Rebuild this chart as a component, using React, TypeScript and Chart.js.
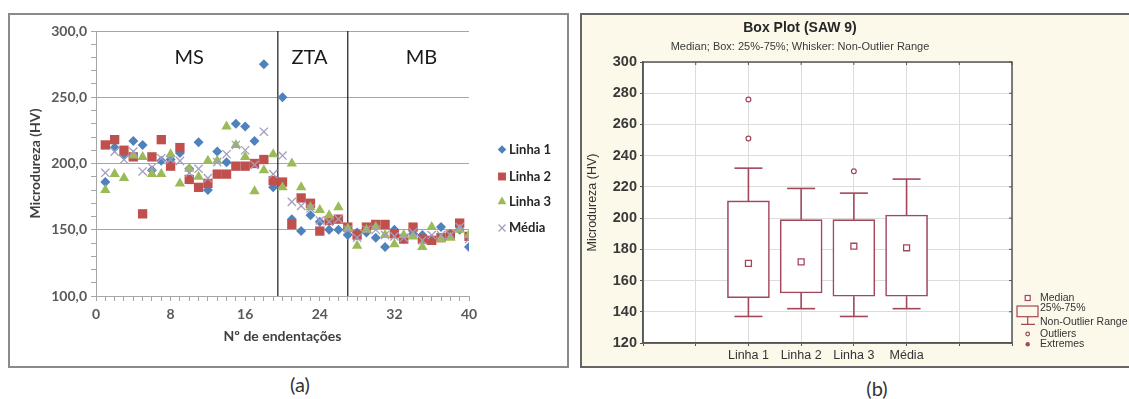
import React, { useEffect, useRef } from 'react';
import { Chart, registerables } from 'chart.js';

Chart.register(...registerables);

// ---------------- Panel (a) data ----------------
const seriesNames = ['Linha 1', 'Linha 2', 'Linha 3', 'Média'];
const indentations = [1, 2, 3, 4, 5, 6, 7, 8, 9, 10, 11, 12, 13, 14, 15, 16, 17, 18, 19, 20, 21, 22, 23, 24, 25, 26, 27, 28, 29, 30, 31, 32, 33, 34, 35, 36, 37, 38, 39, 40];
const linha1 = [186, 212, 206, 217, 214, 195, 202, 203, 208, 196, 216, 180, 209, 201, 230, 228, 217, 275, 182, 250, 158, 149, 161, 156, 150, 150, 146, 148, 148, 144, 137, 150, 143, 147, 146, 143, 152, 147, 150, 137];
const linha2 = [214, 218, 210, 205, 162, 205, 218, 198, 212, 188, 182, 185, 192, 192, 198, 198, 200, 203, 187, 186, 154, 174, 170, 149, 157, 158, 152, 146, 152, 154, 154, 147, 143, 152, 143, 142, 144, 146, 155, 145];
const linha3 = [180, 192, 189, 206, 205, 192, 192, 207, 185, 196, 190, 202, 202, 228, 214, 205, 179, 195, 207, 182, 200, 182, 167, 165, 161, 167, 151, 138, 150, 152, 146, 139, 146, 145, 137, 152, 143, 144, 150, 146];
const media = [193, 209, 203, 209, 194, 197, 204, 203, 202, 193, 196, 189, 201, 207, 214, 210, 199, 224, 192, 206, 171, 168, 166, 157, 156, 158, 150, 144, 150, 150, 146, 145, 144, 148, 142, 146, 146, 146, 152, 143];
const xTickLabels = [0, 8, 16, 24, 32, 40];
const yTickLabels = [100, 150, 200, 250, 300];
const zoneBounds = [19.5, 27];
const zoneNames = ['MS', 'ZTA', 'MB'];
const zoneNameAt = [10, 22.9, 34.9];
const zoneNameLevel = 280;

// ---------------- Panel (b) data ----------------
const boxAxisLabels = ['', '', 'Linha 1', 'Linha 2', 'Linha 3', 'Média', '', ''];
const boxCategories = ['Linha 1', 'Linha 2', 'Linha 3', 'Média'];
const boxQ1 = [149, 152, 150, 150];
const boxQ3 = [211, 199, 199, 202];
const boxMedian = [171, 172, 182, 181];
const whiskerLow = [137, 142, 137, 142];
const whiskerHigh = [232, 219, 216, 225];
const outlierValues = [[276, 251], [], [230], []];
const boxYRange = [120, 300];
const boxTitle = 'Box Plot (SAW 9)';
const boxSubtitle = 'Median; Box: 25%-75%; Whisker: Non-Outlier Range';
const boxLegendLabels = ['Median', '25%-75%', 'Non-Outlier Range', 'Outliers', 'Extremes'];

// ---------------- styles ----------------
const GRID_GRAY = '#A6A6A6';
const LATO = 'Lato';
const ARIAL = '"Liberation Sans", Arial, sans-serif';
const BOX_COLOR = '#A3475B';
const seriesStyles = [
  { shape: 'rectRot', color: '#4F81BD', radius: 5 },
  { shape: 'rect', color: '#C0504D', radius: 6.6 },
  { shape: 'triangle', color: '#9BBB59', radius: 6 },
  { shape: 'crossRot', color: '#A29FBD', radius: 5.8 },
];
const legendRowsA = [134.5, 161.5, 186.7, 213];

function drawMarker(ctx: any, shape: string, x: number, y: number, r: number, color: string) {
  ctx.save();
  ctx.fillStyle = color;
  ctx.strokeStyle = color;
  ctx.lineWidth = 1.3;
  ctx.beginPath();
  if (shape === 'rectRot') {
    ctx.moveTo(x - r, y);
    ctx.lineTo(x, y - r);
    ctx.lineTo(x + r, y);
    ctx.lineTo(x, y + r);
    ctx.closePath();
    ctx.fill();
  } else if (shape === 'rect') {
    const s = r * Math.SQRT1_2;
    ctx.rect(x - s, y - s, 2 * s, 2 * s);
    ctx.fill();
  } else if (shape === 'triangle') {
    ctx.moveTo(x, y - r);
    ctx.lineTo(x + r * 0.866, y + r * 0.5);
    ctx.lineTo(x - r * 0.866, y + r * 0.5);
    ctx.closePath();
    ctx.fill();
  } else {
    const d = r * Math.SQRT1_2;
    ctx.moveTo(x - d, y - d);
    ctx.lineTo(x + d, y + d);
    ctx.moveTo(x + d, y - d);
    ctx.lineTo(x - d, y + d);
    ctx.stroke();
  }
  ctx.restore();
}

function ScatterPanel() {
  const ref = useRef<HTMLCanvasElement>(null);
  useEffect(() => {
    if (!ref.current) return;
    const seriesValues = [linha1, linha2, linha3, media];
    const datasets: any[] = seriesValues.map((vals, k) => ({
      type: 'scatter',
      label: seriesNames[k],
      data: vals.map((v, i) => ({ x: indentations[i], y: v })),
      pointStyle: seriesStyles[k].shape,
      pointRadius: seriesStyles[k].radius,
      backgroundColor: seriesStyles[k].color,
      borderColor: seriesStyles[k].color,
      pointBorderWidth: seriesStyles[k].shape === 'crossRot' ? 1.3 : 0,
      order: 10 - k,
    }));
    zoneBounds.forEach((b) => {
      datasets.push({
        type: 'line',
        label: '',
        data: [{ x: b, y: yTickLabels[0] }, { x: b, y: yTickLabels[yTickLabels.length - 1] }],
        borderColor: '#1a1a1a',
        borderWidth: 1.2,
        pointRadius: 0,
        order: 20,
      });
    });

    const decor = {
      id: 'decorA',
      afterDraw(chart: any) {
        const { ctx, scales } = chart;
        ctx.save();
        ctx.fillStyle = '#1a1a1a';
        ctx.font = `20px ${LATO}`;
        ctx.textAlign = 'center';
        ctx.textBaseline = 'middle';
        zoneNames.forEach((n, k) => {
          ctx.fillText(n, scales.x.getPixelForValue(zoneNameAt[k]), scales.y.getPixelForValue(zoneNameLevel));
        });
        ctx.font = `bold 13px ${LATO}`;
        ctx.textAlign = 'left';
        seriesNames.forEach((n, k) => {
          drawMarker(ctx, seriesStyles[k].shape, 492, legendRowsA[k], seriesStyles[k].radius * 0.85, seriesStyles[k].color);
          ctx.fillStyle = '#262626';
          ctx.fillText(n, 499, legendRowsA[k]);
        });
        ctx.restore();
      },
    };

    const chart = new Chart(ref.current, {
      type: 'scatter',
      data: { datasets },
      plugins: [decor],
      options: {
        animation: false,
        responsive: false,
        events: [],
        layout: { padding: { top: 16, right: 97, left: 0, bottom: 0 } },
        plugins: { legend: { display: false }, tooltip: { enabled: false } },
        scales: {
          x: {
            type: 'linear',
            min: xTickLabels[0],
            max: xTickLabels[xTickLabels.length - 1],
            afterFit: (s: any) => { s.height = 69; },
            ticks: {
              stepSize: 1,
              autoSkip: false,
              maxRotation: 0,
              padding: 5,
              color: '#595959',
              font: { family: LATO, size: 14, weight: 'bold' },
              callback: (v: any) => (xTickLabels.includes(Math.round(v)) && Math.abs(v - Math.round(v)) < 1e-6 ? String(Math.round(v)) : ''),
            },
            grid: { drawOnChartArea: false, color: GRID_GRAY, tickLength: 5 },
            border: { color: GRID_GRAY, width: 1 },
            title: {
              display: true,
              text: 'Nº de endentações',
              color: '#404040',
              font: { family: LATO, size: 14, weight: 'bold' },
              padding: { top: 0, bottom: 20.6 },
            },
          },
          y: {
            type: 'linear',
            min: yTickLabels[0],
            max: yTickLabels[yTickLabels.length - 1],
            afterFit: (s: any) => { s.width = 86; },
            ticks: {
              stepSize: 10,
              autoSkip: false,
              padding: 4,
              color: '#595959',
              font: { family: LATO, size: 14, weight: 'bold' },
              callback: (v: any) => (yTickLabels.includes(Math.round(v)) ? Math.round(v).toFixed(1).replace('.', ',') : ''),
            },
            grid: {
              color: (c: any) => (c.tick && yTickLabels.includes(Math.round(c.tick.value)) ? GRID_GRAY : 'rgba(0,0,0,0)'),
              tickColor: GRID_GRAY,
              tickLength: 5,
            },
            border: { color: GRID_GRAY, width: 1 },
            title: {
              display: true,
              text: 'Microdureza (HV)',
              color: '#404040',
              font: { family: LATO, size: 14, weight: 'bold' },
              padding: { top: 16.6, bottom: 0 },
            },
          },
        },
      } as any,
    });
    return () => chart.destroy();
  }, []);
  return (
    <canvas
      ref={ref}
      width={556}
      height={350}
      style={{ position: 'absolute', left: 10, top: 15, width: 556, height: 350 }}
    />
  );
}

function BoxPanel() {
  const ref = useRef<HTMLCanvasElement>(null);
  useEffect(() => {
    if (!ref.current) return;
    const xs = boxCategories.map((c) => boxAxisLabels.indexOf(c));
    const whiskerPts: any[] = [];
    xs.forEach((x, i) => {
      whiskerPts.push({ x, y: whiskerLow[i] }, { x, y: boxQ1[i] }, { x, y: null });
      whiskerPts.push({ x, y: boxQ3[i] }, { x, y: whiskerHigh[i] }, { x, y: null });
    });
    const capPts: any[] = [];
    xs.forEach((x, i) => { capPts.push({ x, y: whiskerLow[i] }, { x, y: whiskerHigh[i] }); });
    const outlierPts: any[] = [];
    xs.forEach((x, i) => outlierValues[i].forEach((v) => outlierPts.push({ x, y: v })));

    const datasets: any[] = [
      {
        type: 'bar',
        label: '25%-75%',
        data: xs.map((x, i) => ({ x, y: [boxQ1[i], boxQ3[i]] })),
        backgroundColor: '#ffffff',
        borderColor: BOX_COLOR,
        borderWidth: 1.6,
        borderSkipped: false,
        barThickness: 42,
        order: 4,
      },
      {
        type: 'line',
        label: 'Non-Outlier Range',
        data: whiskerPts,
        borderColor: BOX_COLOR,
        borderWidth: 1.6,
        pointRadius: 0,
        spanGaps: false,
        order: 5,
      },
      {
        type: 'scatter',
        label: 'caps',
        data: capPts,
        pointStyle: 'line',
        pointRadius: 14,
        borderColor: BOX_COLOR,
        pointBorderWidth: 1.6,
        order: 3,
      },
      {
        type: 'scatter',
        label: 'Outliers',
        data: outlierPts,
        pointStyle: 'circle',
        pointRadius: 2.4,
        backgroundColor: '#ffffff',
        borderColor: BOX_COLOR,
        pointBorderWidth: 1.2,
        order: 2,
      },
      {
        type: 'scatter',
        label: 'Median',
        data: xs.map((x, i) => ({ x, y: boxMedian[i] })),
        pointStyle: 'rect',
        pointRadius: 4.2,
        backgroundColor: '#ffffff',
        borderColor: BOX_COLOR,
        pointBorderWidth: 1.3,
        order: 1,
      },
    ];

    const decor = {
      id: 'decorB',
      beforeDraw(chart: any) {
        const { ctx, chartArea: a } = chart;
        ctx.save();
        ctx.fillStyle = '#ffffff';
        ctx.fillRect(a.left, a.top, a.right - a.left, a.bottom - a.top);
        ctx.restore();
      },
      afterDraw(chart: any) {
        const { ctx, chartArea: a, scales } = chart;
        ctx.save();
        ctx.strokeStyle = '#555';
        ctx.lineWidth = 1.5;
        ctx.strokeRect(a.left, a.top, a.right - a.left, a.bottom - a.top);
        ctx.lineWidth = 1;
        scales.x.ticks.forEach((t: any) => {
          const px = scales.x.getPixelForValue(t.value);
          ctx.beginPath();
          ctx.moveTo(px, a.top);
          ctx.lineTo(px, a.top + 3);
          ctx.stroke();
        });
        scales.y.ticks.forEach((t: any) => {
          const py = scales.y.getPixelForValue(t.value);
          ctx.beginPath();
          ctx.moveTo(a.right, py);
          ctx.lineTo(a.right - 3, py);
          ctx.stroke();
        });
        // title + subtitle
        ctx.fillStyle = '#262626';
        ctx.textAlign = 'center';
        ctx.textBaseline = 'middle';
        ctx.font = `bold 14px ${ARIAL}`;
        ctx.fillText(boxTitle, 218, 13);
        ctx.font = `11px ${ARIAL}`;
        ctx.fillStyle = '#3a3a3a';
        ctx.fillText(boxSubtitle, 218, 32);
        // legend
        const lx = 445.7;
        const tx = 458;
        const ly = [283, 293, 307, 319, 329.3];
        ctx.strokeStyle = BOX_COLOR;
        ctx.lineWidth = 1.2;
        ctx.fillStyle = '#ffffff';
        ctx.fillRect(lx - 2.5, ly[0] - 2.5, 5, 5);
        ctx.strokeRect(lx - 2.5, ly[0] - 2.5, 5, 5);
        ctx.strokeRect(435, 291, 21, 10.7);
        ctx.beginPath();
        ctx.moveTo(lx, 301.7);
        ctx.lineTo(lx, 309.3);
        ctx.moveTo(439, 309.3);
        ctx.lineTo(453, 309.3);
        ctx.stroke();
        ctx.beginPath();
        ctx.arc(lx, ly[3], 1.8, 0, Math.PI * 2);
        ctx.stroke();
        ctx.beginPath();
        ctx.fillStyle = BOX_COLOR;
        ctx.arc(lx, ly[4], 2.2, 0, Math.PI * 2);
        ctx.fill();
        ctx.fillStyle = '#333';
        ctx.textAlign = 'left';
        ctx.font = `10.5px ${ARIAL}`;
        boxLegendLabels.forEach((n, k) => ctx.fillText(n, tx, ly[k]));
        ctx.restore();
      },
    };

    const chart = new Chart(ref.current, {
      type: 'bar',
      data: { datasets },
      plugins: [decor],
      options: {
        animation: false,
        responsive: false,
        events: [],
        layout: { padding: { top: 47, right: 117, left: 0, bottom: 0 } },
        plugins: { legend: { display: false }, tooltip: { enabled: false } },
        scales: {
          x: {
            type: 'linear',
            offset: false,
            min: 0,
            max: boxAxisLabels.length - 1,
            afterFit: (s: any) => { s.height = 22; },
            ticks: {
              stepSize: 1,
              autoSkip: false,
              maxRotation: 0,
              padding: 2,
              color: '#333',
              font: { family: ARIAL, size: 12.5 },
              callback: (v: any) => boxAxisLabels[Math.round(v)] ?? '',
            },
            grid: { offset: false, color: '#DCDCDC', tickColor: '#555', tickLength: 3 },
            border: { color: '#555', width: 1.5 },
          },
          y: {
            type: 'linear',
            min: boxYRange[0],
            max: boxYRange[1],
            afterFit: (s: any) => { s.width = 61; },
            ticks: {
              stepSize: 20,
              autoSkip: false,
              padding: 3,
              color: '#3a3a3a',
              font: { family: ARIAL, size: 14.5, weight: 'bold' },
            },
            grid: { color: '#DCDCDC', tickColor: '#555', tickLength: 3 },
            border: { color: '#555', width: 1.5 },
            title: {
              display: true,
              text: 'Microdureza (HV)',
              color: '#333',
              font: { family: ARIAL, size: 12.5 },
              padding: { top: 3.5, bottom: 0 },
            },
          },
        },
      } as any,
    });
    return () => chart.destroy();
  }, []);
  return (
    <canvas
      ref={ref}
      width={547}
      height={350}
      style={{ position: 'absolute', left: 582, top: 15, width: 547, height: 350 }}
    />
  );
}

export default function App() {
  return (
    <div style={{ position: 'fixed', left: 0, top: 0, width: 1129, height: 399, background: '#ffffff', overflow: 'hidden' }}>
      <div
        style={{
          position: 'absolute', left: 8, top: 13, width: 561, height: 355,
          border: '2px solid #8a8a8a', boxSizing: 'border-box', background: '#ffffff',
        }}
      />
      <ScatterPanel />
      <div
        style={{
          position: 'absolute', left: 580, top: 13, width: 549, height: 355,
          borderTop: '2px solid #666', borderLeft: '2px solid #666', borderBottom: '2px solid #666',
          boxSizing: 'border-box', background: '#FCF8EA',
        }}
      />
      <BoxPanel />
      <div style={{ position: 'absolute', left: 260, top: 372, width: 80, textAlign: 'center', fontFamily: LATO, fontSize: 20, lineHeight: '24px', color: '#333' }}>(a)</div>
      <div style={{ position: 'absolute', left: 837, top: 376, width: 80, textAlign: 'center', fontFamily: LATO, fontSize: 20, lineHeight: '24px', color: '#333' }}>(b)</div>
    </div>
  );
}
